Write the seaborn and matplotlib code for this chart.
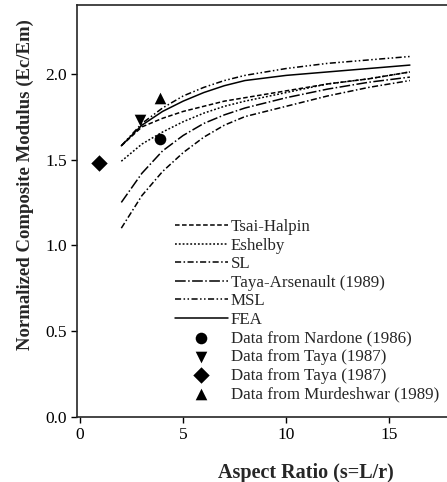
import matplotlib
matplotlib.use("Agg")
import matplotlib.pyplot as plt
import seaborn as sns
import pandas as pd

# aspect ratios where the model curves were read
aspectRatio = [2, 3, 4, 5, 6, 7, 8, 10, 12, 14, 16]

tsaiHalpin = [1.58, 1.69, 1.74, 1.78, 1.81, 1.84, 1.86, 1.90, 1.94, 1.97, 2.01]
eshelby = [1.49, 1.59, 1.66, 1.72, 1.77, 1.81, 1.84, 1.89, 1.94, 1.97, 2.01]
shearLag = [1.10, 1.29, 1.43, 1.54, 1.63, 1.70, 1.75, 1.81, 1.87, 1.92, 1.96]
tayaArsenault = [1.25, 1.42, 1.55, 1.64, 1.71, 1.76, 1.80, 1.86, 1.91, 1.95, 1.98]
modShearLag = [1.58, 1.71, 1.80, 1.87, 1.92, 1.96, 1.99, 2.03, 2.06, 2.08, 2.10]
fea = [1.58, 1.70, 1.78, 1.84, 1.89, 1.93, 1.96, 1.99, 2.01, 2.03, 2.05]

# experimental points
nardoneX, nardoneY = [3.9], [1.62]
taya1X, taya1Y = [2.9], [1.73]
taya2X, taya2Y = [0.9], [1.48]
murdeshwarX, murdeshwarY = [3.9], [1.86]

curves = [
    ("Tsai-Halpin", tsaiHalpin, (0, (3, 1.6))),
    ("Eshelby", eshelby, (0, (1.2, 1.3))),
    ("SL", shearLag, (0, (4, 1.6, 1, 1.6))),
    ("Taya-Arsenault (1989)", tayaArsenault, (0, (7, 1.6, 1, 1.6))),
    ("MSL", modShearLag, (0, (4, 1.6, 1, 1.6, 1, 1.6))),
    ("FEA", fea, "-"),
]
points = [
    ("Data from Nardone (1986)", nardoneX, nardoneY, "o"),
    ("Data from Taya (1987)", taya1X, taya1Y, "v"),
    ("Data from Taya (1987)", taya2X, taya2Y, "D"),
    ("Data from Murdeshwar (1989)", murdeshwarX, murdeshwarY, "^"),
]

sns.set_style("ticks")
plt.rcParams["font.family"] = ["Liberation Serif", "DejaVu Serif"]

fig = plt.figure(figsize=(4.47, 4.82), dpi=100)
ax = fig.add_axes([77 / 447, 65 / 482, 370 / 447, 412 / 482])

for name, values, style in curves:
    df = pd.DataFrame({"s": aspectRatio, "E": values})
    sns.lineplot(data=df, x="s", y="E", color="black", linewidth=1.1,
                 linestyle=style, label=name, ax=ax)

for name, xs, ys, marker in points:
    df = pd.DataFrame({"s": xs, "E": ys})
    sns.scatterplot(data=df, x="s", y="E", color="black", marker=marker,
                    s=70, edgecolor="black", linewidth=0, label=name, ax=ax)

ax.set_xlim(-0.15, 17.8)
ax.set_ylim(0, 2.4)
ax.set_xticks([0, 5, 10, 15])
ax.set_yticks([0.0, 0.5, 1.0, 1.5, 2.0])
ax.set_yticklabels(["0.0", "0.5", "1.0", "1.5", "2.0"])
ax.tick_params(labelsize=12.5, length=4, width=1, colors="black")
ax.spines["right"].set_visible(False)
for sp in ["left", "bottom", "top"]:
    ax.spines[sp].set_linewidth(1.2)

ax.set_xlabel("Aspect Ratio (s=L/r)", fontsize=14.5, fontweight="bold")
ax.set_ylabel("Normalized Composite Modulus (Ec/Em)", fontsize=13.5, fontweight="bold")
ax.xaxis.set_label_coords(0.619, -0.112)
ax.yaxis.set_label_coords(-0.117, 0.563)

ax.legend(loc="upper left", bbox_to_anchor=(0.265, 0.48), frameon=False,
          fontsize=12.2, labelspacing=0.15, handlelength=3.1, handletextpad=0.2,
          borderpad=0, borderaxespad=0)

fig.savefig("out.png", dpi=100)
